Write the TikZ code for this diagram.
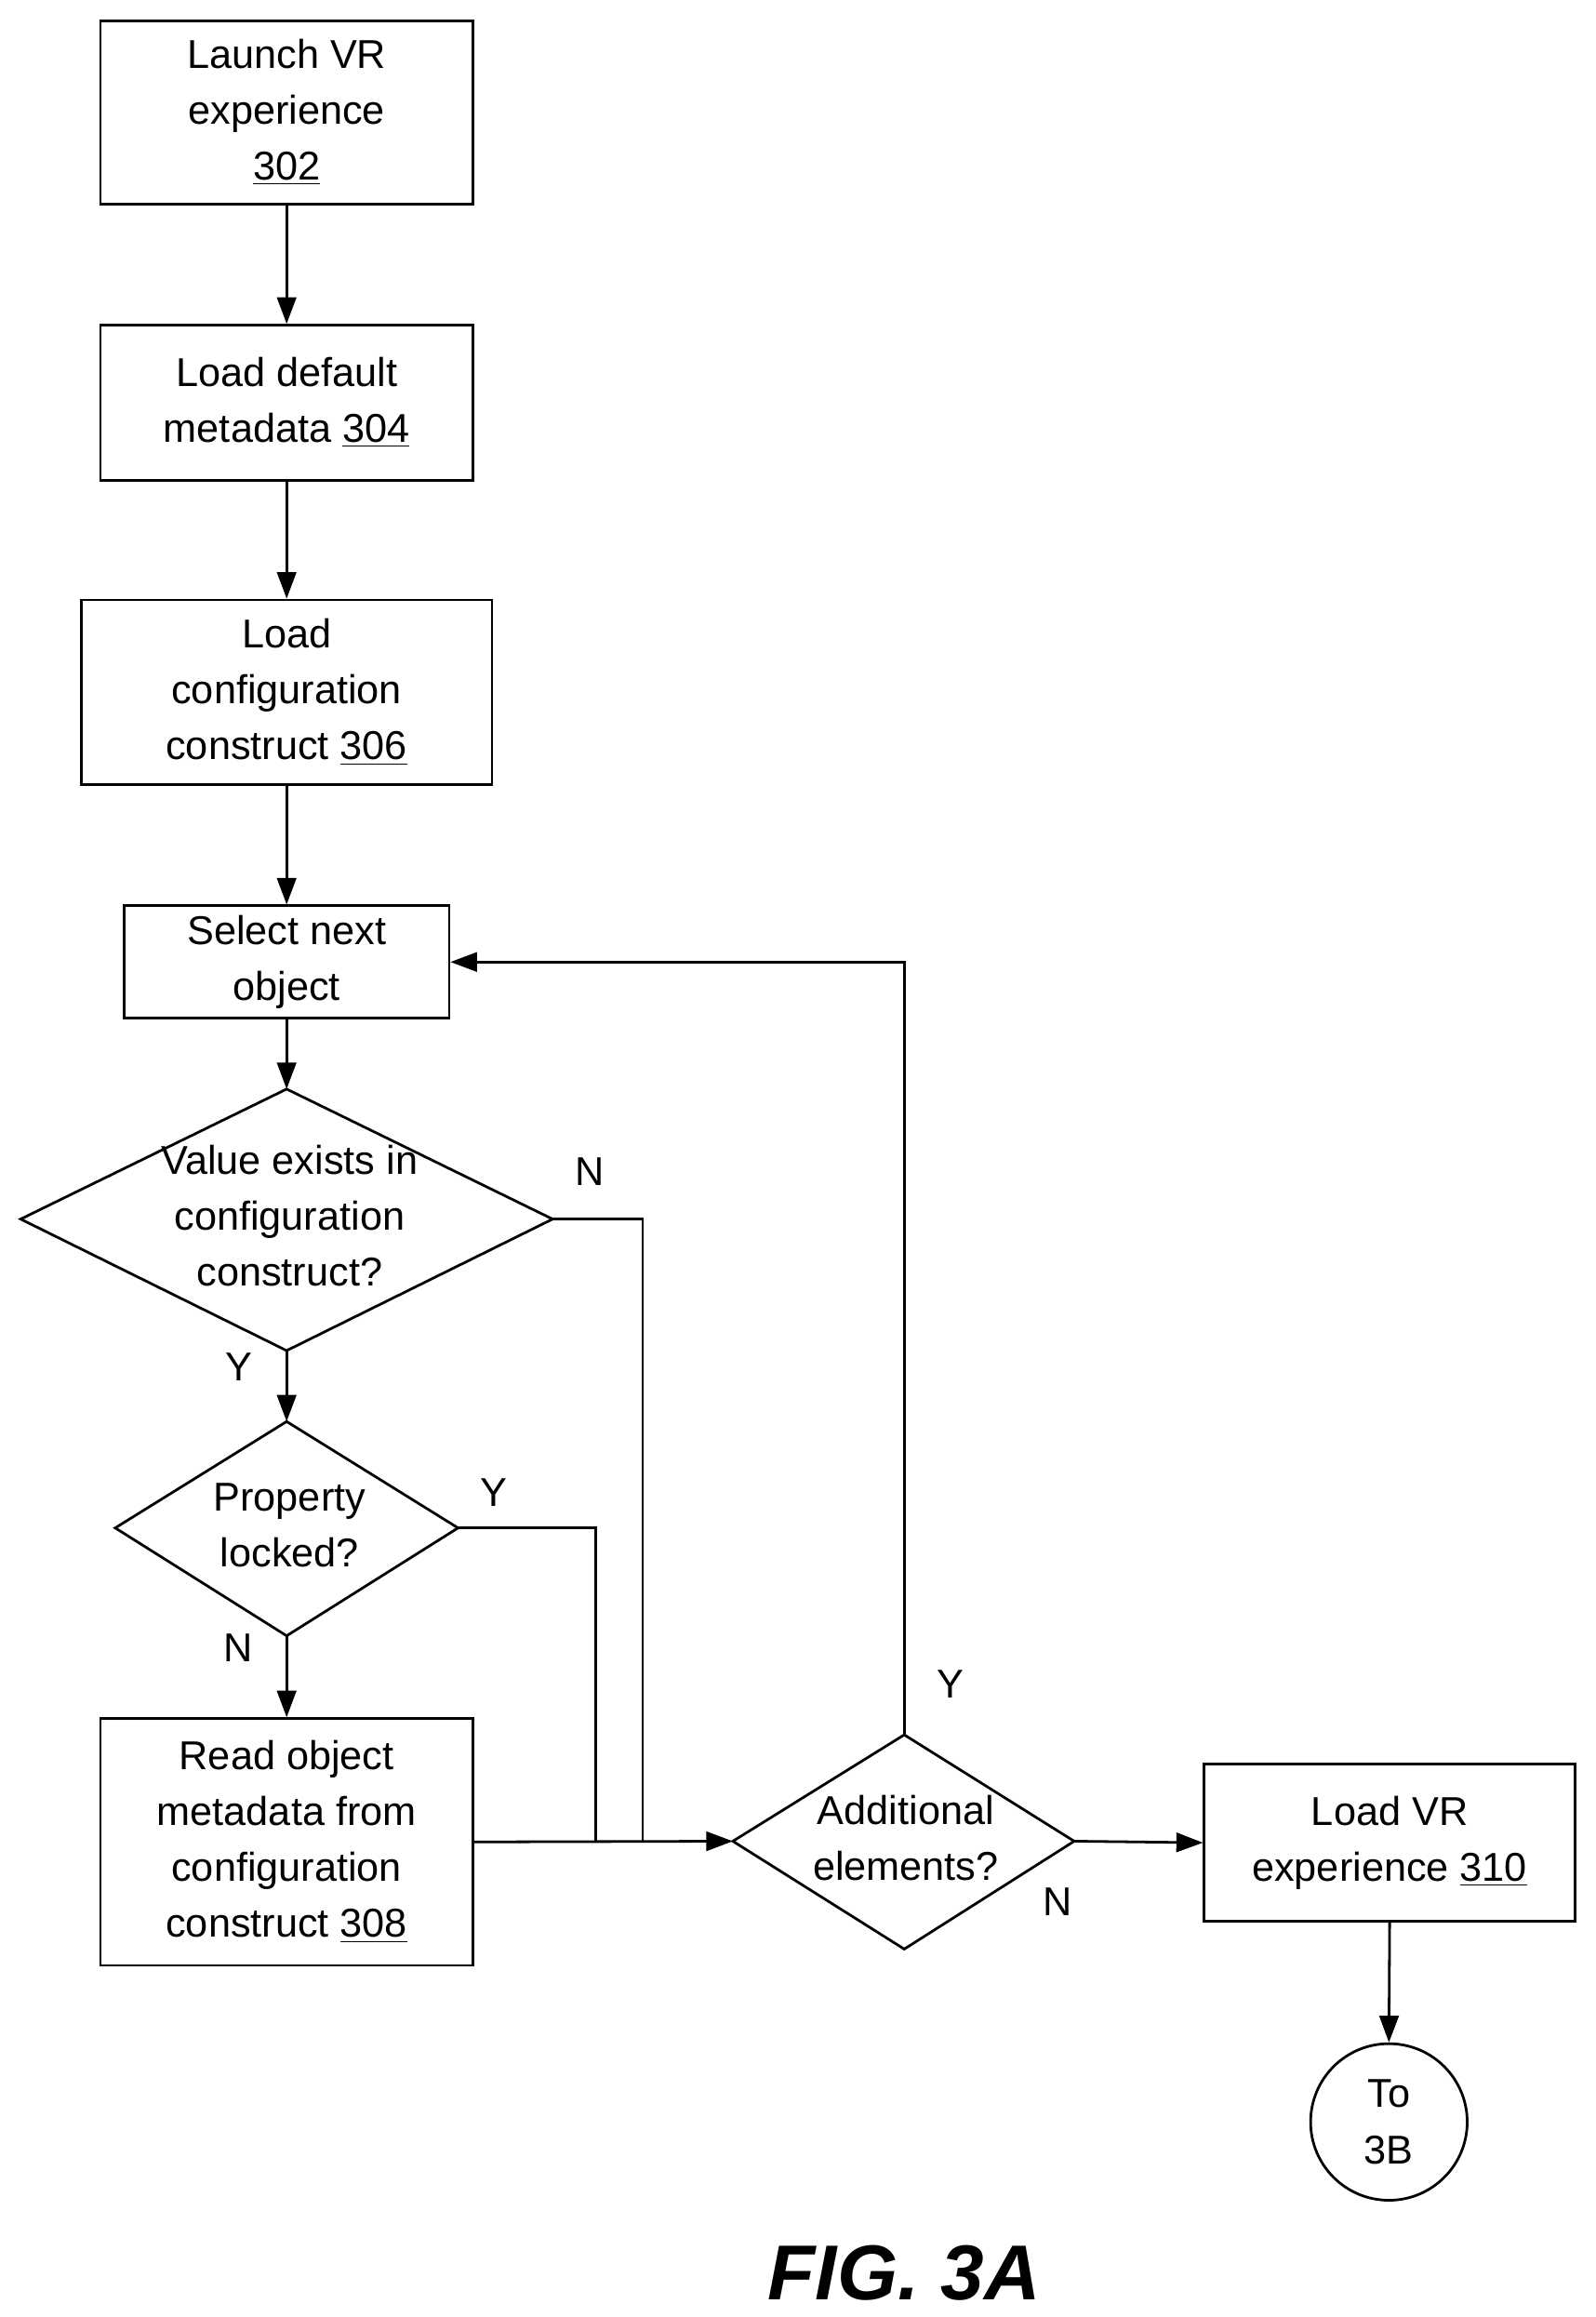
\documentclass[tikz,border=0pt]{standalone}
\usepackage{fontspec}
\setmainfont{Liberation Sans}
\usetikzlibrary{arrows.meta}
\begin{document}
\begin{tikzpicture}[x=0.02cm,y=-0.02cm,
  every node/.style={font=\fontsize{15.5}{21.5}\selectfont, align=center},
  box/.style={draw, line width=1pt, inner sep=0},
  line/.style={line width=1pt},
  arr/.style={line width=1pt,-{Triangle[length=0.36cm,width=0.26cm]}},
  lab/.style={font=\fontsize{15.5}{18}\selectfont}]
\useasboundingbox (0,0) rectangle (1080,1568);
\node[box,minimum width=5.04cm,minimum height=2.48cm] (b302) at (194,76) {Launch VR\\experience\\\underline{302}};
\node[box,minimum width=5.04cm,minimum height=2.1cm] (b304) at (194,272.5) {Load default\\metadata \underline{304}};
\node[box,minimum width=5.56cm,minimum height=2.5cm] (b306) at (194,468.5) {Load\\configuration\\construct \underline{306}};
\node[box,minimum width=4.4cm,minimum height=1.52cm] (sel) at (194,651) {Select next\\object};
% diamond 1
\coordinate (d1t) at (194,737); \coordinate (d1b) at (194,914);
\coordinate (d1l) at (14,825); \coordinate (d1r) at (374,825);
\draw[line] (d1t)--(d1r)--(d1b)--(d1l)--cycle;
\node (d1) at (196,823) {Value exists in\\configuration\\construct?};
% diamond 2
\coordinate (d2t) at (194,962); \coordinate (d2b) at (194,1107);
\coordinate (d2l) at (78,1034); \coordinate (d2r) at (310,1034);
\draw[line] (d2t)--(d2r)--(d2b)--(d2l)--cycle;
\node (d2) at (196,1032) {Property\\locked?};
\node[box,minimum width=5.04cm,minimum height=3.34cm] (b308) at (194,1246.5) {Read object\\metadata from\\configuration\\construct \underline{308}};
% diamond 3
\coordinate (d3t) at (612,1174); \coordinate (d3b) at (612,1319);
\coordinate (d3l) at (496,1246); \coordinate (d3r) at (727,1246);
\draw[line] (d3t)--(d3r)--(d3b)--(d3l)--cycle;
\node (d3) at (613,1244) {Additional\\elements?};
\node[box,minimum width=5.02cm,minimum height=2.12cm] (b310) at (940.5,1247) {Load VR\\experience \underline{310}};
\node[draw,line width=1pt,circle,minimum size=2.12cm,inner sep=0] (c) at (940,1436) {To\\3B};
\node[font=\fontsize{30}{30}\selectfont\bfseries\itshape] (fig) at (612,1538) {FIG. 3A};
% arrows
\draw[arr] (b302.south)--(b304.north);
\draw[arr] (b304.south)--(b306.north);
\draw[arr] (b306.south)--(sel.north);
\draw[arr] (sel.south)--(d1t);
\draw[arr] (d1b)--(d2t);
\draw[arr] (d2b)--(b308.north);
\coordinate (j1) at (435,1246); \coordinate (j2) at (403,1246);
\draw[line] (d1r)--(435,825)--(j1);
\draw[line] (d2r)--(403,1034)--(j2);
\draw[arr] (b308.east)--(d3l);
\draw[arr] (d3t)--(612,651)--(sel.east);
\draw[arr] (d3r)--(b310.west);
\draw[arr] (b310.south)--(c.north);
\node[lab] at (399,793) {N};
\node[lab] at (162,925) {Y};
\node[lab] at (334,1010) {Y};
\node[lab] at (161,1115) {N};
\node[lab] at (643,1140) {Y};
\node[lab] at (716,1287) {N};
\end{tikzpicture}
\end{document}
